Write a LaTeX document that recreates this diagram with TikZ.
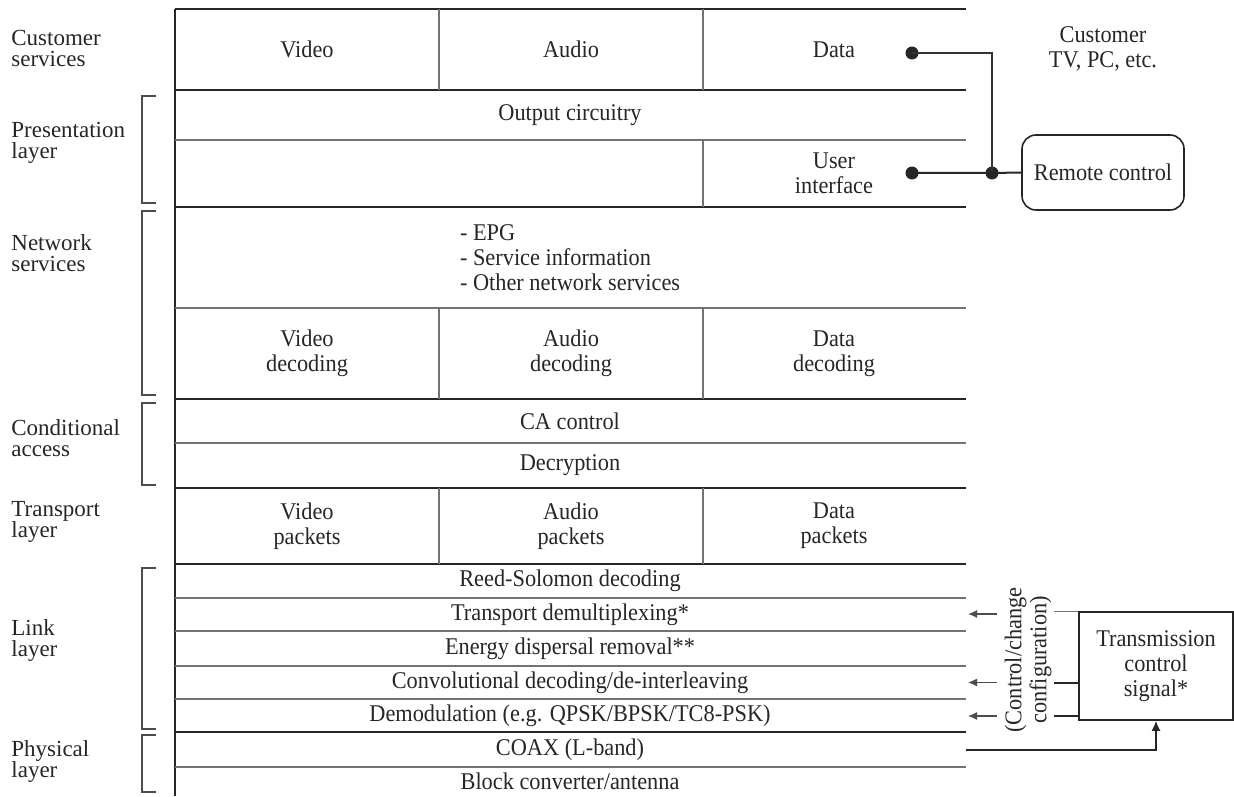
\documentclass[tikz,border=0pt]{standalone}
\usepackage{fontspec}
\setmainfont{Liberation Serif}[FakeStretch=0.93]
\newfontfamily\layerfont{Liberation Serif}
\usetikzlibrary{arrows.meta,positioning}

\tikzset{
	cell/.style={font=\fontsize{12}{12.5}\selectfont, align=center, text=black!85},
	layer/.style={font=\layerfont\fontsize{11.5}{10.5}\selectfont, align=left, anchor=west, inner sep=0pt, text=black!85},
	heavy/.style={line width=1pt, draw=black!85},
	light/.style={line width=0.6pt, draw=black!55},
	brace/.style={line width=0.6pt, draw=black!70},
	dot/.style={circle, fill=black!85, inner sep=0pt, minimum size=6.5pt},
	ctrl/.style={line width=0.6pt, draw=black!70, -{Latex[length=4.5pt,width=4pt]}},
}

\begin{document}
\begin{tikzpicture}[x=0.5pt,y=-0.5pt]
		\useasboundingbox (0,0) rectangle (1234,796);
		
		% layer grid
		\draw[heavy] (175,9) -- (175,796);
		\foreach \y in {9,90,207,399,488,564,732}
			\draw[heavy] (175,\y) -- (966,\y);
		\foreach \y in {140,308,443,598,631,666,699,767}
			\draw[light] (175,\y) -- (966,\y);
		\foreach \a/\b in {9/90,308/399,488/564} {
			\draw[light] (439,\a) -- (439,\b);
			\draw[light] (703,\a) -- (703,\b);
		}
		\draw[light] (703,140) -- (703,207);
		
		% brackets
		\foreach \a/\b in {96/203,211/395,403/485,568/729,735/792}
			\draw[brace] (156,\a) -| (142,\b) -- (156,\b);
		
		% layer names
		\node[layer] (cust) at (11,49) {Customer\\services};
		\node[layer] (pres) at (11,143) {Presentation\\layer};
		\node[layer] (netw) at (11,253) {Network\\services};
		\node[layer] (cond) at (11,438) {Conditional\\access};
		\node[layer] (tran) at (11,522) {Transport\\layer};
		\node[layer] (link) at (11,640) {Link\\layer};
		\node[layer] (phys) at (11,761) {Physical\\layer};
		
		% cells
		\node[cell] (video) at (307,49.5) {Video};
		\node[cell] (audio) at (571,49.5) {Audio};
		\node[cell] (data) at (834,49.5) {Data};
		
		\node[cell] (out) at (570,115) {Output circuitry};
		\node[cell] (ui) at (834,173) {User\\interface};
		
		\node[cell, align=left, anchor=west] (epg) at (453,258) {- EPG\\- Service information\\- Other network services};
		
		\node[cell] (vdec) at (307,353.5) {Video\\decoding};
		\node[cell] (adec) at (571,353.5) {Audio\\decoding};
		\node[cell] (ddec) at (834,353.5) {Data\\decoding};
		
		\node[cell] (ca) at (570,421) {CA control};
		\node[cell] (decr) at (570,465.5) {Decryption};
		
		\node[cell] (vpk) at (307,526) {Video\\packets};
		\node[cell] (apk) at (571,526) {Audio\\packets};
		\node[cell] (dpk) at (834,526) {Data\\packets};
		
		\node[cell] (rs) at (570,581) {Reed-Solomon decoding};
		\node[cell] (demux) at (570,614.5) {Transport demultiplexing*};
		\node[cell] (energy) at (570,648.5) {Energy dispersal removal**};
		\node[cell] (conv) at (570,682.5) {Convolutional decoding/de-interleaving};
		\node[cell] (demod) at (570,715.5) {Demodulation (e.g. QPSK/BPSK/TC8-PSK)};
		\node[cell] (coax) at (570,749.5) {COAX (L-band)};
		\node[cell] (block) at (570,781.5) {Block converter/antenna};
		
		% customer side
		\node[cell] (tv) at (1103,49) {Customer\\TV, PC, etc.};
		\node[cell, draw=black!85, line width=0.8pt, rounded corners=7pt,
			minimum width=81pt, minimum height=37.5pt] (remote) at (1103,172.5) {Remote control};
		
		\node[dot] (ddot) at (912,53) {};
		\node[dot] (uidot) at (912,173) {};
		\node[dot] (jdot) at (992,173) {};
		
		\draw[line width=0.7pt, black!80] (ddot.center) -| (jdot.center);
		\draw[line width=1pt, black!85] (uidot.center) -- (jdot.center) -- (remote.west);
		
		% transmission control
		\node[cell, draw=black!85, line width=0.8pt,
			minimum width=77pt, minimum height=54pt] (tcs) at (1156,666) {Transmission\\control\\signal*};
		
		\node[cell, rotate=90] (cfg) at (1028,660) {(Control/change\\configuration)};
		
		\coordinate (t1) at (968,614);
		\coordinate (t2) at (968,682.5);
		\coordinate (t3) at (968,716);
		\coordinate (s1) at (997,614);
		\coordinate (s2) at (997,682.5);
		\coordinate (s3) at (997,716);
		
		\draw[ctrl] (s1) -- (t1);
		\draw[ctrl] (s2) -- (t2);
		\draw[ctrl] (s3) -- (t3);
		
		\draw[light] (tcs.north west) -- ++(-24,0);
		\draw[heavy] (tcs.west |- s2) -- ++(-24,0);
		\draw[heavy] (tcs.west |- s3) -- ++(-24,0);
		
		\coordinate (cx) at (966,750);
		\draw[line width=0.8pt, black!85, -{Latex[length=5pt,width=4.5pt]}] (cx) -| (tcs.south);
	\end{tikzpicture}
\end{document}
